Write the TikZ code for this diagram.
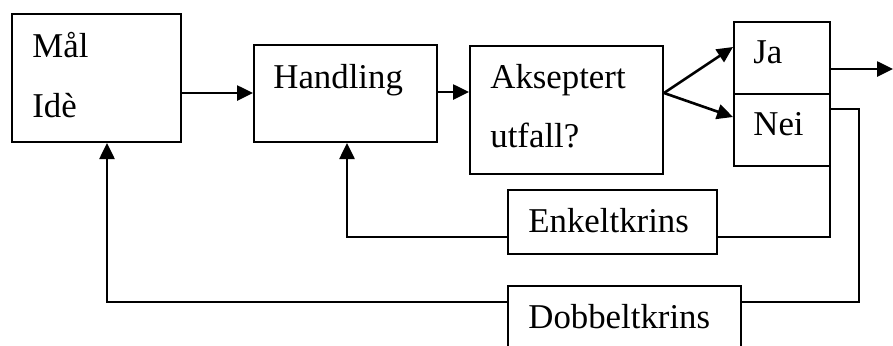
\documentclass[tikz,border=0pt]{standalone}
\usepackage{fontspec}
\setmainfont{Liberation Serif}
\usetikzlibrary{calc,arrows.meta}
\tikzstyle{boks} = [rectangle, draw=black, line width=1pt, anchor=north west, inner sep=0pt]
\tikzstyle{tekst} = [anchor=base west, inner sep=0pt, font=\fontsize{17.4}{20}\selectfont]
\tikzstyle{pil} = [line width=1.3pt, -{Triangle[length=8pt,width=7.5pt]}]
\tikzstyle{linje} = [line width=1pt]

\begin{document}
\begin{tikzpicture}[x=0.5pt, y=-0.5pt]

        \useasboundingbox (0,0) rectangle (893,345);
        \clip (0,0) rectangle (893,345);

        \node (maal) [boks, minimum width=84.5pt, minimum height=64pt] at (11,13) {};
        \node (maal1) [tekst] at ($(maal.north west) + (21,44)$) {Mål};
        \node (maal2) [tekst] at ($(maal.north west) + (21,104)$) {Idè};

        \node (hand) [boks, minimum width=91.5pt, minimum height=48.5pt] at (253,44) {};
        \node (hand1) [tekst] at ($(hand.north west) + (20,44)$) {Handling};

        \node (aksept) [boks, minimum width=96.5pt, minimum height=64pt] at (469,45) {};
        \node (aksept1) [tekst] at ($(aksept.north west) + (21,43)$) {Akseptert};
        \node (aksept2) [tekst] at ($(aksept.north west) + (21,102)$) {utfall?};

        \node (ja) [boks, minimum width=48pt, minimum height=36pt] at (733,21) {};
        \node (ja1) [tekst] at ($(ja.north west) + (20,42)$) {Ja};
        \node (nei) [boks, minimum width=48pt, minimum height=36pt] at (733,93) {};
        \node (nei1) [tekst] at ($(nei.north west) + (20,42)$) {Nei};

        \node (enkel) [boks, minimum width=104.5pt, minimum height=32pt] at (507,189) {};
        \node (enkel1) [tekst] at ($(enkel.north west) + (21,43)$) {Enkeltkrins};

        \node (dobbel) [boks, minimum width=116.5pt, minimum height=40pt] at (507,285) {};
        \node (dobbel1) [tekst] at ($(dobbel.north west) + (21,43)$) {Dobbeltkrins};

        \coordinate (ut) at (893,69);
        \coordinate (hjorne) at (859,302);

        \draw[pil] ($(maal.north east) + (0,80)$) -- ($(hand.north west) + (0,49)$);
        \draw[pil] ($(hand.north east) + (0,48)$) -- ($(aksept.north west) + (0,47)$);
        \draw[pil] ($(aksept.north east) + (0,48)$) -- ($(ja.north west) + (0,26)$);
        \draw[pil] ($(aksept.north east) + (0,48)$) -- ($(nei.north west) + (0,24)$);
        \draw[pil] ($(ja.north east) + (0,48)$) -- (ut);

        \draw[linje] ($(nei.south east) + (-1,-8)$) |- ($(enkel.north east) + (0,48)$);
        \draw[pil] ($(enkel.north west) + (0,48)$) -| ($(hand.south west) + (94,0)$);

        \draw[linje] ($(nei.north east) + (-1,16)$) -| (hjorne) -- ($(dobbel.north east) + (0,17)$);
        \draw[pil] ($(dobbel.north west) + (0,17)$) -| ($(maal.south west) + (96,0)$);

    \end{tikzpicture}
\end{document}
